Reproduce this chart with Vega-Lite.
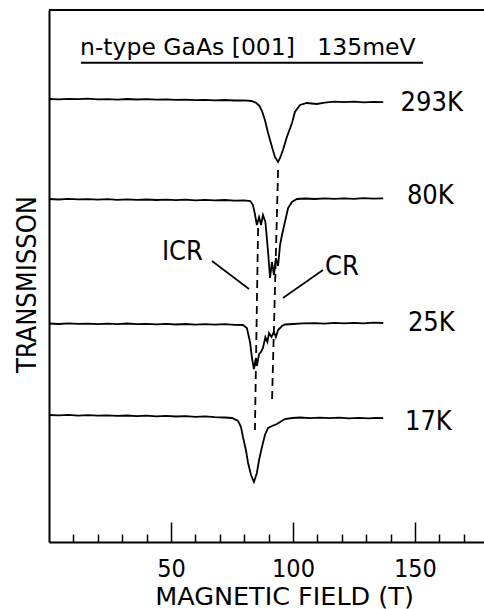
{
  "$schema": "https://vega.github.io/schema/vega-lite/v6.json",
  "width": 435,
  "height": 532,
  "autosize": {"type": "none"},
  "padding": {"left": 49, "top": 10, "right": 0, "bottom": 67},
  "background": "white",
  "config": {"view": {"stroke": null}, "font": "DejaVu Sans"},
  "datasets": {
    "curves": [
      {"s": "293K", "B": 0, "T": 443}, {"s": "293K", "B": 4, "T": 442.6}, {"s": "293K", "B": 8, "T": 443.2}, {"s": "293K", "B": 12, "T": 442.8}, {"s": "293K", "B": 16, "T": 443.3}, {"s": "293K", "B": 20, "T": 442.7}, {"s": "293K", "B": 24, "T": 442.9}, {"s": "293K", "B": 28, "T": 442.4}, {"s": "293K", "B": 32, "T": 443}, {"s": "293K", "B": 36, "T": 442.5}, {"s": "293K", "B": 40, "T": 442.8}, {"s": "293K", "B": 44, "T": 442.3}, {"s": "293K", "B": 48, "T": 442.6}, {"s": "293K", "B": 52, "T": 442.1}, {"s": "293K", "B": 56, "T": 442.4}, {"s": "293K", "B": 60, "T": 441.9}, {"s": "293K", "B": 64, "T": 442.2}, {"s": "293K", "B": 68, "T": 441.7}, {"s": "293K", "B": 72, "T": 442}, {"s": "293K", "B": 76, "T": 441.5}, {"s": "293K", "B": 80, "T": 441.6}, {"s": "293K", "B": 83, "T": 441}, {"s": "293K", "B": 85, "T": 439}, {"s": "293K", "B": 86.3, "T": 436}, {"s": "293K", "B": 87.3, "T": 431}, {"s": "293K", "B": 88.5, "T": 422}, {"s": "293K", "B": 89.8, "T": 409}, {"s": "293K", "B": 91.4, "T": 395}, {"s": "293K", "B": 92.6, "T": 385}, {"s": "293K", "B": 93.9, "T": 380}, {"s": "293K", "B": 94.7, "T": 384}, {"s": "293K", "B": 95.9, "T": 392}, {"s": "293K", "B": 97.5, "T": 405}, {"s": "293K", "B": 99.6, "T": 419}, {"s": "293K", "B": 100.8, "T": 430}, {"s": "293K", "B": 102.9, "T": 437}, {"s": "293K", "B": 105.7, "T": 439}, {"s": "293K", "B": 109.8, "T": 438}, {"s": "293K", "B": 113, "T": 439.3}, {"s": "293K", "B": 117, "T": 440.4}, {"s": "293K", "B": 121, "T": 439.8}, {"s": "293K", "B": 125, "T": 440.3}, {"s": "293K", "B": 129, "T": 439.7}, {"s": "293K", "B": 133, "T": 440.2}, {"s": "293K", "B": 137, "T": 439.9},
      {"s": "80K", "B": 0, "T": 343}, {"s": "80K", "B": 4, "T": 342.5}, {"s": "80K", "B": 8, "T": 343.1}, {"s": "80K", "B": 12, "T": 342.6}, {"s": "80K", "B": 16, "T": 342.9}, {"s": "80K", "B": 20, "T": 342.3}, {"s": "80K", "B": 24, "T": 342.8}, {"s": "80K", "B": 28, "T": 342.2}, {"s": "80K", "B": 32, "T": 342.7}, {"s": "80K", "B": 36, "T": 342.1}, {"s": "80K", "B": 40, "T": 342.5}, {"s": "80K", "B": 44, "T": 342}, {"s": "80K", "B": 48, "T": 342.4}, {"s": "80K", "B": 52, "T": 341.8}, {"s": "80K", "B": 56, "T": 342.3}, {"s": "80K", "B": 60, "T": 341.7}, {"s": "80K", "B": 64, "T": 342.1}, {"s": "80K", "B": 68, "T": 341.6}, {"s": "80K", "B": 72, "T": 342}, {"s": "80K", "B": 76, "T": 341.4}, {"s": "80K", "B": 80, "T": 341.7}, {"s": "80K", "B": 82.5, "T": 341}, {"s": "80K", "B": 83.6, "T": 337}, {"s": "80K", "B": 84.4, "T": 328}, {"s": "80K", "B": 85.2, "T": 317}, {"s": "80K", "B": 86.1, "T": 325}, {"s": "80K", "B": 86.9, "T": 317}, {"s": "80K", "B": 87.7, "T": 327}, {"s": "80K", "B": 88.7, "T": 320}, {"s": "80K", "B": 89.8, "T": 290}, {"s": "80K", "B": 90.6, "T": 264}, {"s": "80K", "B": 91.4, "T": 280}, {"s": "80K", "B": 92.2, "T": 267}, {"s": "80K", "B": 93, "T": 284}, {"s": "80K", "B": 93.9, "T": 276}, {"s": "80K", "B": 94.7, "T": 297}, {"s": "80K", "B": 95.5, "T": 307}, {"s": "80K", "B": 96.7, "T": 320}, {"s": "80K", "B": 98, "T": 334}, {"s": "80K", "B": 99.6, "T": 340}, {"s": "80K", "B": 101.6, "T": 343}, {"s": "80K", "B": 105, "T": 343.5}, {"s": "80K", "B": 109, "T": 343}, {"s": "80K", "B": 113, "T": 343.6}, {"s": "80K", "B": 117, "T": 343.1}, {"s": "80K", "B": 121, "T": 343.7}, {"s": "80K", "B": 125, "T": 343.2}, {"s": "80K", "B": 129, "T": 343.8}, {"s": "80K", "B": 133, "T": 343.3}, {"s": "80K", "B": 137, "T": 343.6},
      {"s": "25K", "B": 0, "T": 218.5}, {"s": "25K", "B": 4, "T": 218}, {"s": "25K", "B": 8, "T": 218.6}, {"s": "25K", "B": 12, "T": 218.1}, {"s": "25K", "B": 16, "T": 218.4}, {"s": "25K", "B": 20, "T": 217.8}, {"s": "25K", "B": 24, "T": 218.3}, {"s": "25K", "B": 28, "T": 217.9}, {"s": "25K", "B": 32, "T": 218.5}, {"s": "25K", "B": 36, "T": 217.9}, {"s": "25K", "B": 40, "T": 218.2}, {"s": "25K", "B": 44, "T": 217.6}, {"s": "25K", "B": 48, "T": 218.1}, {"s": "25K", "B": 52, "T": 217.5}, {"s": "25K", "B": 56, "T": 218}, {"s": "25K", "B": 60, "T": 217.4}, {"s": "25K", "B": 64, "T": 217.9}, {"s": "25K", "B": 68, "T": 217.3}, {"s": "25K", "B": 72, "T": 217.8}, {"s": "25K", "B": 76, "T": 217.2}, {"s": "25K", "B": 79.5, "T": 217}, {"s": "25K", "B": 81.1, "T": 214}, {"s": "25K", "B": 82.4, "T": 200}, {"s": "25K", "B": 83.2, "T": 184}, {"s": "25K", "B": 84, "T": 173}, {"s": "25K", "B": 84.8, "T": 184}, {"s": "25K", "B": 85.2, "T": 176}, {"s": "25K", "B": 86.1, "T": 188}, {"s": "25K", "B": 86.9, "T": 190}, {"s": "25K", "B": 87.7, "T": 194}, {"s": "25K", "B": 88.7, "T": 205}, {"s": "25K", "B": 89.5, "T": 200}, {"s": "25K", "B": 90.2, "T": 209}, {"s": "25K", "B": 91.2, "T": 205}, {"s": "25K", "B": 92.2, "T": 210}, {"s": "25K", "B": 93, "T": 205}, {"s": "25K", "B": 93.9, "T": 212}, {"s": "25K", "B": 95.5, "T": 216}, {"s": "25K", "B": 96.7, "T": 217.5}, {"s": "25K", "B": 100, "T": 218}, {"s": "25K", "B": 104, "T": 218.6}, {"s": "25K", "B": 109, "T": 218.9}, {"s": "25K", "B": 113, "T": 218.4}, {"s": "25K", "B": 117, "T": 219.1}, {"s": "25K", "B": 121, "T": 218.6}, {"s": "25K", "B": 125, "T": 219.2}, {"s": "25K", "B": 129, "T": 218.7}, {"s": "25K", "B": 133, "T": 219.3}, {"s": "25K", "B": 137, "T": 219},
      {"s": "17K", "B": 0, "T": 127}, {"s": "17K", "B": 4, "T": 126.6}, {"s": "17K", "B": 8, "T": 127.1}, {"s": "17K", "B": 12, "T": 126.4}, {"s": "17K", "B": 16, "T": 126.9}, {"s": "17K", "B": 20, "T": 126.3}, {"s": "17K", "B": 24, "T": 126.7}, {"s": "17K", "B": 28, "T": 126.1}, {"s": "17K", "B": 32, "T": 126.5}, {"s": "17K", "B": 36, "T": 125.9}, {"s": "17K", "B": 40, "T": 126.3}, {"s": "17K", "B": 44, "T": 125.7}, {"s": "17K", "B": 48, "T": 126.1}, {"s": "17K", "B": 52, "T": 125.5}, {"s": "17K", "B": 56, "T": 125.9}, {"s": "17K", "B": 60, "T": 125.2}, {"s": "17K", "B": 64, "T": 125.6}, {"s": "17K", "B": 68, "T": 124.9}, {"s": "17K", "B": 72, "T": 124.5}, {"s": "17K", "B": 75, "T": 124}, {"s": "17K", "B": 77.5, "T": 121}, {"s": "17K", "B": 78.7, "T": 115}, {"s": "17K", "B": 79.5, "T": 105}, {"s": "17K", "B": 80.7, "T": 92}, {"s": "17K", "B": 81.6, "T": 79}, {"s": "17K", "B": 82.8, "T": 67}, {"s": "17K", "B": 84, "T": 60}, {"s": "17K", "B": 85.2, "T": 69}, {"s": "17K", "B": 86.1, "T": 82}, {"s": "17K", "B": 87.3, "T": 95}, {"s": "17K", "B": 88.5, "T": 107}, {"s": "17K", "B": 89.8, "T": 114}, {"s": "17K", "B": 91.4, "T": 116}, {"s": "17K", "B": 93.4, "T": 118}, {"s": "17K", "B": 94.7, "T": 120}, {"s": "17K", "B": 96.7, "T": 123}, {"s": "17K", "B": 99.6, "T": 124}, {"s": "17K", "B": 103, "T": 124.5}, {"s": "17K", "B": 107, "T": 123.9}, {"s": "17K", "B": 111, "T": 124.4}, {"s": "17K", "B": 115, "T": 123.8}, {"s": "17K", "B": 119, "T": 124.3}, {"s": "17K", "B": 123, "T": 123.7}, {"s": "17K", "B": 127, "T": 124.2}, {"s": "17K", "B": 131, "T": 123.6}, {"s": "17K", "B": 134, "T": 124.1}, {"s": "17K", "B": 137, "T": 123.8}
    ],
    "dashes": [
      {"name": "ICR", "B": 85.7, "T": 314, "B2": 84.4, "T2": 112},
      {"name": "CR", "B": 93.9, "T": 372, "B2": 91.4, "T2": 140}
    ],
    "leaders": [
      {"name": "ICR", "B": 66.8, "T": 281, "B2": 82.0, "T2": 253},
      {"name": "CR", "B": 112.3, "T": 272, "B2": 95.9, "T2": 244}
    ],
    "frame": [
      {"name": "top", "B": 0, "T": 532, "B2": 178.3, "T2": 532},
      {"name": "underline", "B": 13.1, "T": 479.3, "B2": 153.3, "T2": 479.3}
    ],
    "templabels": [
      {"label": "293K", "B": 144.1, "T": 439.5},
      {"label": "80K", "B": 146.7, "T": 346},
      {"label": "25K", "B": 147.1, "T": 219},
      {"label": "17K", "B": 145.9, "T": 120}
    ],
    "peaklabels": [
      {"label": "ICR", "B": 54.7, "T": 290},
      {"label": "CR", "B": 120.1, "T": 275}
    ],
    "heading": [
      {"label": "n-type GaAs [001]\u00a0\u00a0\u00a0135meV", "B": 12.7, "T": 487}
    ]
  },
  "layer": [
    {
      "data": {"name": "curves"},
      "mark": {"type": "line", "color": "black", "strokeWidth": 1.8, "interpolate": "linear"},
      "encoding": {
        "x": {
          "field": "B", "type": "quantitative",
          "scale": {"domain": [0, 178.3], "nice": false, "zero": false},
          "axis": {
            "values": [10, 20, 30, 40, 50, 60, 70, 80, 90, 100, 110, 120, 130, 140, 150, 160, 170],
            "tickCount": 40,
            "tickSize": {"condition": {"test": "datum.value % 50 === 0", "value": -20}, "value": -8},
            "tickColor": "black", "tickWidth": 1.5,
            "domainColor": "black", "domainWidth": 2,
            "grid": false,
            "labelExpr": "datum.value % 50 === 0 ? datum.label : ''",
            "labelFont": "DejaVu Sans Condensed", "labelFontSize": 25, "labelColor": "black",
            "labelPadding": 34, "labelOverlap": false, "labelFlush": false,
            "title": "MAGNETIC FIELD (T)",
            "titleFont": "DejaVu Sans", "titleFontSize": 25.5, "titleFontWeight": "normal", "titleColor": "black",
            "titleX": 235, "titleY": 62, "titleBaseline": "alphabetic", "titleAlign": "center"
          }
        },
        "y": {
          "field": "T", "type": "quantitative",
          "scale": {"domain": [0, 532], "nice": false, "zero": false},
          "axis": {
            "ticks": false, "labels": false, "grid": false,
            "domainColor": "black", "domainWidth": 2,
            "title": "TRANSMISSON",
            "titleFont": "DejaVu Sans Condensed", "titleFontSize": 27, "titleFontWeight": "normal", "titleColor": "black",
            "titleX": -14, "titleY": 274, "titleBaseline": "alphabetic", "titleAlign": "center", "titleAngle": 270
          }
        },
        "detail": {"field": "s", "type": "nominal"}
      }
    },
    {
      "data": {"name": "dashes"},
      "mark": {"type": "rule", "color": "black", "strokeWidth": 1.8, "strokeDash": [8, 5]},
      "encoding": {
        "x": {"field": "B", "type": "quantitative"},
        "y": {"field": "T", "type": "quantitative"},
        "x2": {"field": "B2"},
        "y2": {"field": "T2"}
      }
    },
    {
      "data": {"name": "leaders"},
      "mark": {"type": "rule", "color": "black", "strokeWidth": 1.6},
      "encoding": {
        "x": {"field": "B", "type": "quantitative"},
        "y": {"field": "T", "type": "quantitative"},
        "x2": {"field": "B2"},
        "y2": {"field": "T2"}
      }
    },
    {
      "data": {"name": "frame"},
      "mark": {"type": "rule", "color": "black", "strokeWidth": 2},
      "encoding": {
        "x": {"field": "B", "type": "quantitative"},
        "y": {"field": "T", "type": "quantitative"},
        "x2": {"field": "B2"},
        "y2": {"field": "T2"}
      }
    },
    {
      "data": {"name": "templabels"},
      "mark": {"type": "text", "align": "left", "baseline": "middle", "font": "DejaVu Sans Condensed", "fontSize": 27, "color": "black"},
      "encoding": {
        "x": {"field": "B", "type": "quantitative"},
        "y": {"field": "T", "type": "quantitative"},
        "text": {"field": "label"}
      }
    },
    {
      "data": {"name": "peaklabels"},
      "mark": {"type": "text", "align": "center", "baseline": "middle", "font": "DejaVu Sans Condensed", "fontSize": 27, "color": "black"},
      "encoding": {
        "x": {"field": "B", "type": "quantitative"},
        "y": {"field": "T", "type": "quantitative"},
        "text": {"field": "label"}
      }
    },
    {
      "data": {"name": "heading"},
      "mark": {"type": "text", "align": "left", "baseline": "alphabetic", "font": "DejaVu Sans", "fontSize": 23.5, "color": "black"},
      "encoding": {
        "x": {"field": "B", "type": "quantitative"},
        "y": {"field": "T", "type": "quantitative"},
        "text": {"field": "label"}
      }
    }
  ]
}
